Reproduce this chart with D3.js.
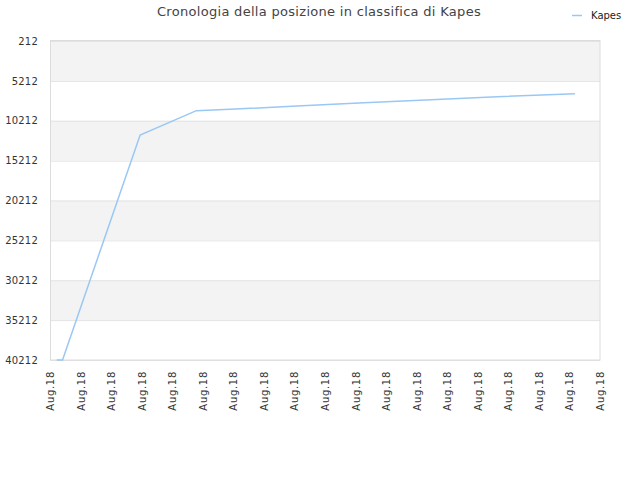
<!DOCTYPE html>
<html><head><meta charset="utf-8">
<script src="https://cdn.jsdelivr.net/npm/d3@7"></script>
<style>body{margin:0;background:#fff;} svg{display:block;font-family:"DejaVu Sans",sans-serif;}</style>
</head><body>
<svg id="c" width="640" height="480"></svg>
<script>
const title = "Cronologia della posizione in classifica di Kapes";
const seriesName = "Kapes";
const xTickLabels = ["Aug.18","Aug.18","Aug.18","Aug.18","Aug.18","Aug.18","Aug.18","Aug.18","Aug.18","Aug.18","Aug.18","Aug.18","Aug.18","Aug.18","Aug.18","Aug.18","Aug.18","Aug.18","Aug.18"];
const yTicks = [212,5212,10212,15212,20212,25212,30212,35212,40212];
const pointX = [0.22,0.41,2.95,4.79,5.89,8.08,10.28,12.47,14.63,17.18];
const pointRank = [40212,40212,12000,8950,8780,8360,7950,7570,7200,6830];

const svg = d3.select("#c");
const L=50,R=600,T=41,B=360;
const x = d3.scaleLinear().domain([0,xTickLabels.length-1]).range([L,R]);
const y = d3.scaleLinear().domain([212,40212]).range([T,B]);

// bands
const bands = d3.pairs(yTicks);
svg.append("g").selectAll("rect").data(bands).join("rect")
  .attr("x",L).attr("width",R-L)
  .attr("y",d=>y(d[0])).attr("height",d=>y(d[1])-y(d[0]))
  .attr("fill",(d,i)=>i%2===0?"#f3f3f3":"#ffffff");
// grid
svg.append("g").selectAll("line").data(yTicks).join("line")
  .attr("x1",L).attr("x2",R).attr("y1",d=>y(d)+0.5).attr("y2",d=>y(d)+0.5)
  .attr("stroke","#e3e3e3");
// frame
svg.append("rect").attr("x",L+0.5).attr("y",T-0.5).attr("width",R-L-0.5).attr("height",B-T+0.5)
  .attr("fill","none").attr("stroke","#dcdcdc");

// y axis
const yAxis = d3.axisLeft(y).tickValues(yTicks).tickFormat(d3.format("d")).tickSize(0).tickPadding(12);
const gy = svg.append("g").attr("transform",`translate(${L},0)`).call(yAxis);
gy.select(".domain").remove();
gy.selectAll("text").attr("font-size",10).attr("fill","#333").attr("font-family","DejaVu Sans").attr("letter-spacing","0.2px");

// x axis
const xAxis = d3.axisBottom(x).tickValues(d3.range(xTickLabels.length)).tickFormat(i=>xTickLabels[i]).tickSize(0);
const gx = svg.append("g").attr("transform",`translate(0,${B})`).call(xAxis);
gx.select(".domain").remove();
gx.selectAll("text").attr("font-size",10).attr("fill","#333").attr("font-family","DejaVu Sans")
  .attr("letter-spacing","0.7px")
  .attr("text-anchor","end").attr("transform","rotate(-90)").attr("dy","0.35em").attr("dx","-11").attr("y",0).attr("x",0);

// line
const pts = pointX.map((v,i)=>[v,pointRank[i]]);
svg.append("path").datum(pts)
  .attr("d",d3.line().x(d=>x(d[0])).y(d=>y(d[1])))
  .attr("fill","none").attr("stroke","#99c8f4").attr("stroke-width",1.5);

// title
svg.append("text").attr("x",319).attr("y",16).attr("text-anchor","middle")
  .attr("font-size",13).attr("letter-spacing","0.3px").attr("fill","#444").text(title);
// legend
svg.append("line").attr("x1",572).attr("x2",582).attr("y1",15.5).attr("y2",15.5)
  .attr("stroke","#99c8f4").attr("stroke-width",1.5);
svg.append("text").attr("x",591).attr("y",19).attr("font-size",10).attr("fill","#222").text(seriesName);
</script>
</body></html>
